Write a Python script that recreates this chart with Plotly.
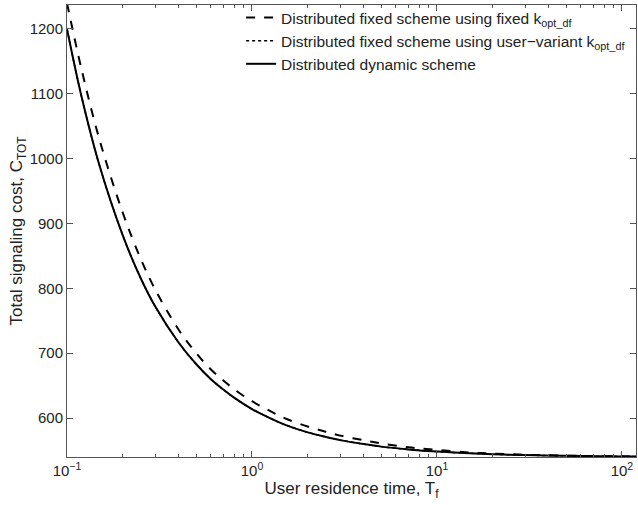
import plotly.graph_objects as go

T = [0.1, 0.12, 0.15, 0.2, 0.25, 0.3, 0.4, 0.5, 0.6, 0.7, 0.8, 1.0, 1.25, 1.5, 2.0,
     2.5, 3.0, 4.0, 5.0, 7.0, 10, 15, 20, 30, 50, 70, 100, 120]
fixed_kopt = [1240, 1137, 1029, 917, 846, 798, 737, 700, 675, 658, 644.5, 626, 611, 600, 587,
              579, 573, 566, 561, 555, 551, 547, 545.3, 543.5, 542.1, 541.5, 541, 540.9]
user_variant_kopt = [1200, 1095, 989, 882, 816, 772, 717, 683, 660, 644, 631.5, 614, 600, 590, 578,
                     571, 566, 560, 556, 551.7, 548.3, 545.7, 544.3, 542.9, 541.8, 541.3, 540.9, 540.8]
dynamic = [1200, 1095, 989, 882, 816, 772, 717, 683, 660, 644, 631.5, 614, 600, 590, 578,
           571, 566, 560, 556, 551.7, 548.3, 545.7, 544.3, 542.9, 541.8, 541.3, 540.9, 540.8]

names = ["Distributed fixed scheme using fixed k<sub>opt_df</sub>",
         "Distributed fixed scheme using user\u2212variant k<sub>opt_df</sub>",
         "Distributed dynamic scheme"]
x_tickvals = [0.1, 1, 10, 100]
x_ticktext = ["10<sup>\u22121</sup>", "10<sup>0</sup>", "10<sup>1</sup>", "10<sup>2</sup>"]
y_ticks = [600, 700, 800, 900, 1000, 1100, 1200]

minor_vals = [m * d for d in (0.1, 1, 10, 100) for m in range(2, 10)]

fig = go.Figure()
fig.add_trace(go.Scatter(x=T, y=fixed_kopt, mode="lines", name=names[0],
                         line=dict(color="black", width=2, dash="dash", shape="spline")))
fig.add_trace(go.Scatter(x=T, y=user_variant_kopt, mode="lines", name=names[1],
                         line=dict(color="black", width=1.5, dash="dot", shape="spline")))
fig.add_trace(go.Scatter(x=T, y=dynamic, mode="lines", name=names[2],
                         line=dict(color="black", width=2, shape="spline")))

font = "Liberation Sans, Arial, Helvetica, sans-serif"
axis_common = dict(showline=True, linecolor="#555", linewidth=1, mirror="allticks",
                   ticks="inside", tickcolor="#555", ticklen=6, showgrid=False, zeroline=False,
                   tickfont=dict(family=font, size=15, color="#222"))

fig.update_xaxes(type="log", range=[-1, 2.076], tickmode="array",
                 tickvals=x_tickvals, ticktext=x_ticktext,
                 minor=dict(tickmode="array", tickvals=minor_vals, ticks="inside", ticklen=3,
                            tickcolor="#555", showgrid=False),
                 title=dict(text="User residence time, T<sub>f</sub>", standoff=2,
                            font=dict(family=font, size=17, color="#222")),
                 **axis_common)
fig.update_yaxes(range=[540, 1237], tickvals=y_ticks,
                 title=dict(text="Total signaling cost, C<sub>TOT</sub>", standoff=2,
                            font=dict(family=font, size=17, color="#222")),
                 **axis_common)

fig.update_layout(
    width=638, height=505,
    margin=dict(l=67, r=2, t=5, b=48, autoexpand=False),
    plot_bgcolor="white", paper_bgcolor="white",
    font=dict(family=font, size=15, color="#222"),
    legend=dict(x=0.306, y=1.009, xanchor="left", yanchor="top", bgcolor="rgba(0,0,0,0)",
                font=dict(family=font, size=15.5, color="#222"), tracegroupgap=0,
                itemwidth=30),
)

fig.write_html("out.html", config={"displayModeBar": False},
               post_script="document.body.style.margin='0';")
